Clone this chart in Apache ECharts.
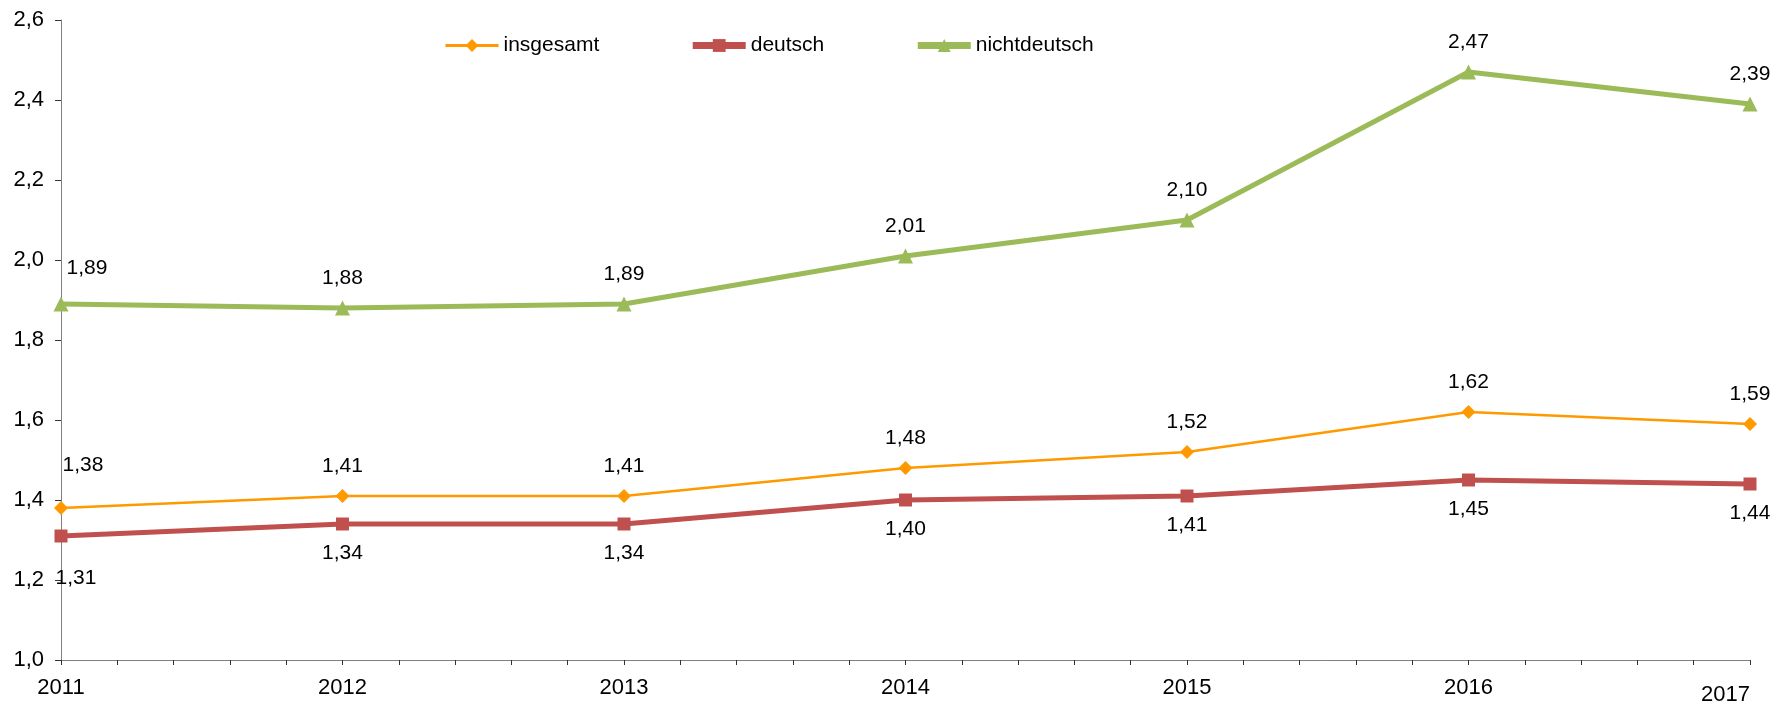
<!DOCTYPE html>
<html>
<head>
<meta charset="utf-8">
<script src="https://cdn.jsdelivr.net/npm/echarts@6/dist/echarts.min.js"></script>
<style>
  html, body { margin: 0; padding: 0; background: #fff; }
  #chart { width: 1791px; height: 706px; }
</style>
</head>
<body>
<div id="chart"></div>
<script>
  var years = [2011, 2012, 2013, 2014, 2015, 2016, 2017];
  var insgesamt = [1.38, 1.41, 1.41, 1.48, 1.52, 1.62, 1.59];
  var deutsch = [1.31, 1.34, 1.34, 1.40, 1.41, 1.45, 1.44];
  var nichtdeutsch = [1.89, 1.88, 1.89, 2.01, 2.10, 2.47, 2.39];
  var seriesNames = ['insgesamt', 'deutsch', 'nichtdeutsch'];

  var fontFam = 'Liberation Sans, Arial, sans-serif';

  function fmt(v) {
    return v.toFixed(2).replace('.', ',');
  }

  // first point labels sit a bit off to the right (like the original)
  function buildData(vals, firstOffset) {
    return vals.map(function (v, i) {
      var item = { value: [years[i], v] };
      if (i === 0) item.label = { offset: firstOffset };
      return item;
    });
  }

  var labelBase = {
    show: true,
    color: '#000',
    fontSize: 21,
    fontFamily: fontFam,
    formatter: function (p) { return fmt(p.value[1]); }
  };

  var option = {
    animation: false,
    backgroundColor: '#fff',
    grid: { left: 61, right: 41, top: 20, bottom: 43, containLabel: false },
    legend: {
      left: 439,
      top: 30,
      itemWidth: 53,
      itemHeight: 16,
      itemGap: 90,
      textStyle: { fontSize: 21, fontFamily: fontFam, color: '#000' },
      data: [
        { name: seriesNames[0], lineStyle: { width: 3 } },
        { name: seriesNames[1], lineStyle: { width: 7 } },
        { name: seriesNames[2], lineStyle: { width: 7 } }
      ]
    },
    xAxis: {
      type: 'value',
      min: 2011,
      max: 2017,
      interval: 1,
      axisLine: { show: true, lineStyle: { color: '#808080', width: 1 } },
      axisTick: { show: true, inside: false, length: 5, lineStyle: { color: '#333' } },
      minorTick: { show: true, splitNumber: 5, length: 5, lineStyle: { color: '#333' } },
      splitLine: { show: false },
      axisLabel: {
        color: '#000',
        fontSize: 22,
        fontFamily: fontFam,
        margin: 17,
        alignMaxLabel: 'right',
        formatter: function (v) {
          return v === 2017 ? '{last|' + v + '}' : String(v);
        },
        rich: {
          last: { fontSize: 22, fontFamily: fontFam, color: '#000', padding: [7, 0, 0, 0] }
        }
      }
    },
    yAxis: {
      type: 'value',
      min: 1.0,
      max: 2.6,
      interval: 0.2,
      axisLine: { show: true, lineStyle: { color: '#808080', width: 1 } },
      axisTick: { show: true, inside: false, length: 6, lineStyle: { color: '#333' } },
      splitLine: { show: false },
      axisLabel: {
        color: '#000',
        fontSize: 22,
        fontFamily: fontFam,
        margin: 17,
        formatter: function (v) { return v.toFixed(1).replace('.', ','); }
      }
    },
    series: [
      {
        name: 'insgesamt',
        type: 'line',
        data: buildData(insgesamt, [22, -13]),
        symbol: 'diamond',
        symbolSize: 14,
        itemStyle: { color: '#FF9900' },
        lineStyle: { color: '#FF9900', width: 2.5 },
        label: Object.assign({}, labelBase, { position: 'top', distance: 12 }),
        z: 3
      },
      {
        name: 'deutsch',
        type: 'line',
        data: buildData(deutsch, [15, 13]),
        symbol: 'rect',
        symbolSize: 13,
        itemStyle: { color: '#C0504D' },
        lineStyle: { color: '#C0504D', width: 5 },
        label: Object.assign({}, labelBase, { position: 'bottom', distance: 12 }),
        z: 2
      },
      {
        name: 'nichtdeutsch',
        type: 'line',
        data: buildData(nichtdeutsch, [26, -6]),
        symbol: 'triangle',
        symbolSize: 15,
        itemStyle: { color: '#9BBB59' },
        lineStyle: { color: '#9BBB59', width: 5 },
        label: Object.assign({}, labelBase, { position: 'top', distance: 12 }),
        z: 4
      }
    ]
  };

  var chart = echarts.init(document.getElementById('chart'));
  chart.setOption(option);
</script>
</body>
</html>
